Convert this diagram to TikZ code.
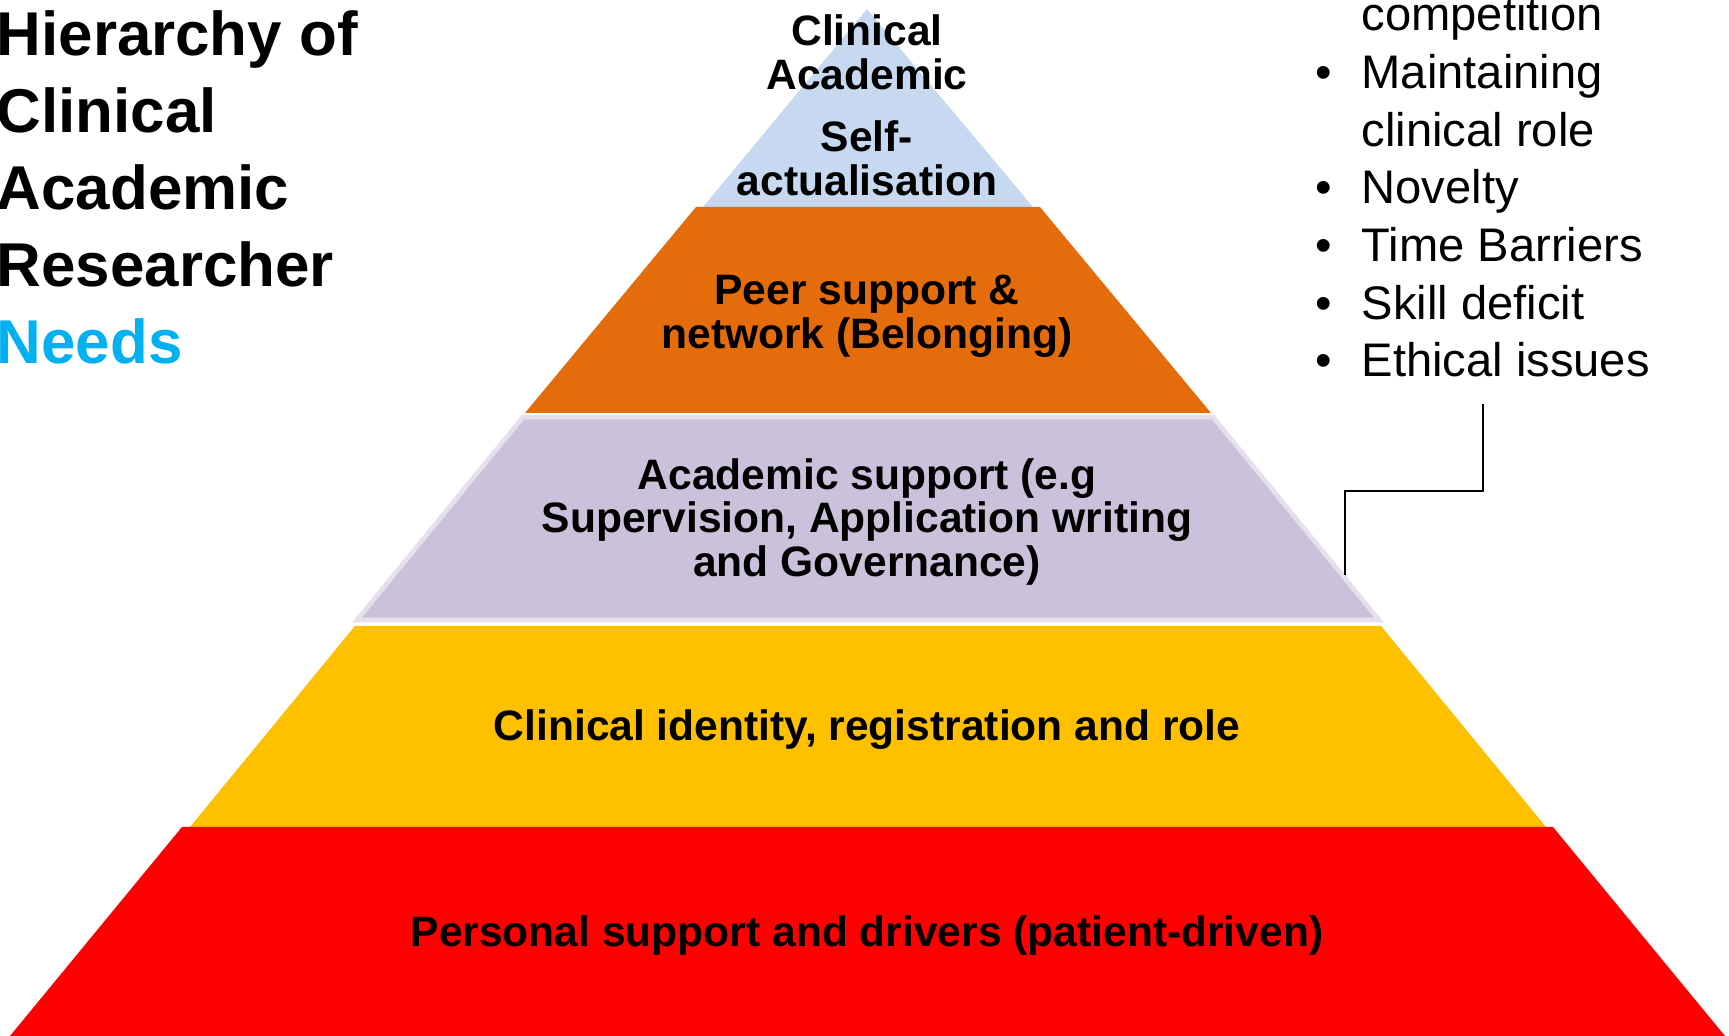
\documentclass[tikz,border=0pt]{standalone}
\usepackage{fontspec}
\setmainfont{Liberation Sans}
\usetikzlibrary{positioning,calc}
\definecolor{tipblue}{HTML}{C6D9F1}
\definecolor{peerorange}{HTML}{E46C0A}
\definecolor{acadlilac}{HTML}{CCC1DA}
\definecolor{acadedge}{HTML}{E6E0EC}
\definecolor{clinyellow}{HTML}{FFC000}
\definecolor{persred}{HTML}{FF0000}
\definecolor{needsblue}{HTML}{00B0F0}
\newcommand\listdot{\makebox[0.46cm][l]{\textbullet}}
\newcommand\listgap{\hspace*{0.46cm}}
\tikzset{
layertext/.style={font=\fontsize{12.1}{12.5}\selectfont\bfseries, align=center, inner sep=0pt},
heading/.style={font=\fontsize{17.6}{21.9}\selectfont\bfseries, align=left, inner sep=0pt, anchor=north west},
barriers/.style={font=\fontsize{13.4}{16.4}\selectfont, align=left, inner sep=0pt, anchor=north west},
link/.style={draw=black, line width=0.6pt},
}
\begin{document}
\begin{tikzpicture}[x=0.01cm,y=0.01cm]
\useasboundingbox (0,0) rectangle (1729,1036);
\fill[tipblue] (867,1027) -- (703,829) -- (1033,829) -- cycle;
\fill[peerorange] (696,829) -- (1040,829) -- (1211,623) -- (525,623) -- cycle;
\filldraw[fill=acadlilac, draw=acadedge, line width=1.3pt] (523,619) -- (1213,619) -- (1379,416) -- (357,416) -- cycle;
\fill[clinyellow] (355,410) -- (1381,410) -- (1546,209) -- (190,209) -- cycle;
\fill[persred] (182,209) -- (1553,209) -- (1725,0) -- (10,0) -- cycle;

\node[layertext] (topa) at (867,984) {Clinical\\Academic};
\node[layertext] (topb) at (867,878) {Self-\\actualisation};
\node[layertext] (peer) at (867,720) {Peer support \&\\network (Belonging)};
\node[layertext] (acad) at (867,514) {Academic support (e.g\\Supervision, Application writing\\and Governance)};
\node[layertext] (clin) at (867,306) {Clinical identity, registration and role};
\node[layertext] (pers) at (867,100) {Personal support and drivers (patient-driven)};

\node[heading] (title) at (-4,1026) {Hierarchy of\\Clinical\\Academic\\Researcher\\\textcolor{needsblue}{Needs}};

\node[barriers] (list) at (1315,1040) {\listgap competition\\\listdot Maintaining\\\listgap clinical role\\\listdot Novelty\\\listdot Time Barriers\\\listdot Skill deficit\\\listdot Ethical issues};
\coordinate (tip) at (1345,461);
\draw[link] ([yshift=-0.26cm]list.south) -- ++(0,-87) -| (tip);
\end{tikzpicture}
\end{document}
